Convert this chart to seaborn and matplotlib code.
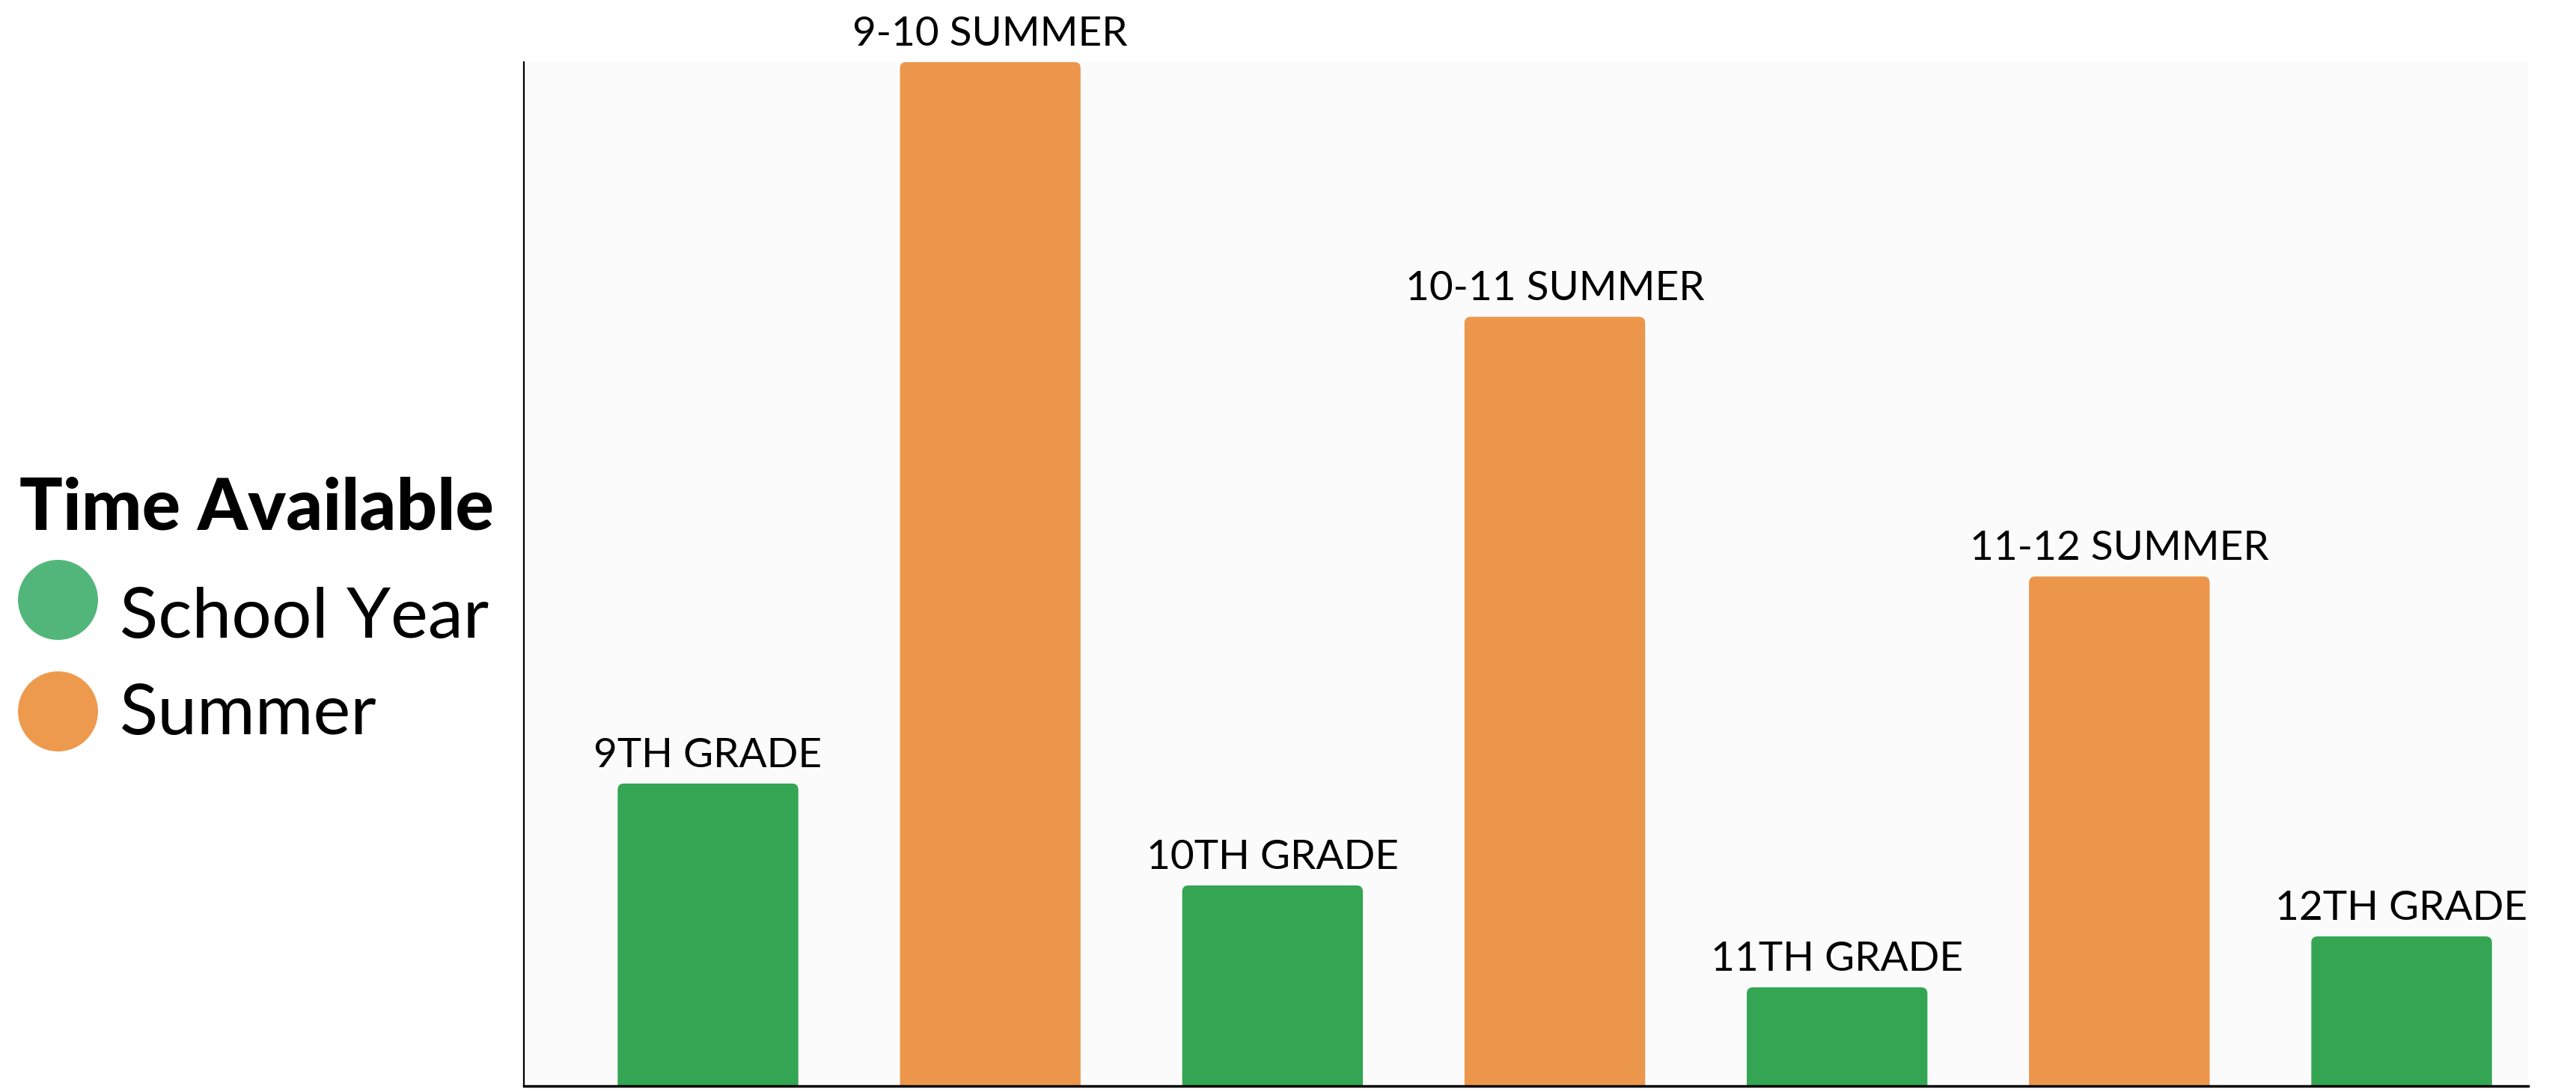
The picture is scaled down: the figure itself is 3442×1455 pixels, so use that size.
import matplotlib
matplotlib.use("Agg")
import matplotlib.pyplot as plt
from matplotlib.lines import Line2D
from matplotlib.patches import FancyBboxPatch
import seaborn as sns
import pandas as pd

# Hours of free time per period
periods = ["9TH GRADE", "9-10 SUMMER", "10TH GRADE", "10-11 SUMMER",
           "11TH GRADE", "11-12 SUMMER", "12TH GRADE"]
hours = [184, 623, 122, 468, 60, 310, 91]
kinds = ["School Year", "Summer", "School Year", "Summer",
         "School Year", "Summer", "School Year"]

bar_colors = {"School Year": "#33a553", "Summer": "#ec964b"}
legend_colors = {"School Year": "#52b67b", "Summer": "#ee9a4e"}

df = pd.DataFrame({"period": periods, "hours": hours, "kind": kinds})

sns.set_theme(style="white")
plt.rcParams["font.family"] = ["Lato", "DejaVu Sans"]

DPI = 100
W, H = 3442, 1455
fig = plt.figure(figsize=(W / DPI, H / DPI), dpi=DPI, facecolor="white")
ax_rect = [0.2034, 0.0028, 0.778, 0.9402]
ax = fig.add_axes(ax_rect)
ax.set_facecolor("#fbfbfb")

sns.barplot(data=df, x="period", y="hours", hue="kind", palette=bar_colors,
            dodge=False, width=0.64, legend=False, ax=ax, saturation=1)

XLIM = (-0.652, 6.448)
YLIM = (0, 623)
ax.set_xlim(*XLIM)
ax.set_ylim(*YLIM)

# pixels per data unit in each direction, for round corners
px_x = ax_rect[2] * W / (XLIM[1] - XLIM[0])
px_y = ax_rect[3] * H / (YLIM[1] - YLIM[0])

# Replace bars with versions that have slightly rounded tops
for patch in list(ax.patches):
    x0, w, h = patch.get_x(), patch.get_width(), patch.get_height()
    fc = patch.get_facecolor()
    patch.remove()
    if h <= 0:
        continue
    rounded = FancyBboxPatch((x0, -20), w, h + 20,
                             boxstyle="round,pad=0,rounding_size=0.022",
                             mutation_aspect=px_x / px_y,
                             facecolor=fc, edgecolor="none", zorder=2)
    ax.add_patch(rounded)

ax.set_xlabel("")
ax.set_ylabel("")
ax.set_xticks([])
ax.set_yticks([])

for side in ["top", "right"]:
    ax.spines[side].set_visible(False)
ax.spines["left"].set_color("black")
ax.spines["left"].set_linewidth(1.6)
ax.spines["bottom"].set_color("black")
ax.spines["bottom"].set_linewidth(2.5)
ax.spines["bottom"].set_zorder(3)

for i, (label, val) in enumerate(zip(periods, hours)):
    ax.annotate(label, xy=(i, val), xytext=(0, 16), textcoords="offset points",
                ha="center", va="baseline", fontsize=39.5, color="black",
                fontweight="normal", annotation_clip=False)

# Legend drawn in figure coordinates
fig.text(26 / W, 1 - 707 / H, "Time Available", fontsize=69,
         fontweight="black", ha="left", va="baseline", color="black")
for kind, cy, base in [("School Year", 801, 852), ("Summer", 950, 981)]:
    fig.add_artist(Line2D([77 / W], [1 - cy / H], marker="o", markersize=76,
                          color=legend_colors[kind], linestyle="none",
                          transform=fig.transFigure))
    fig.text(160 / W, 1 - base / H, kind, fontsize=68, fontweight="normal",
             ha="left", va="baseline", color="black")

fig.savefig("out.png", dpi=DPI, facecolor="white")
